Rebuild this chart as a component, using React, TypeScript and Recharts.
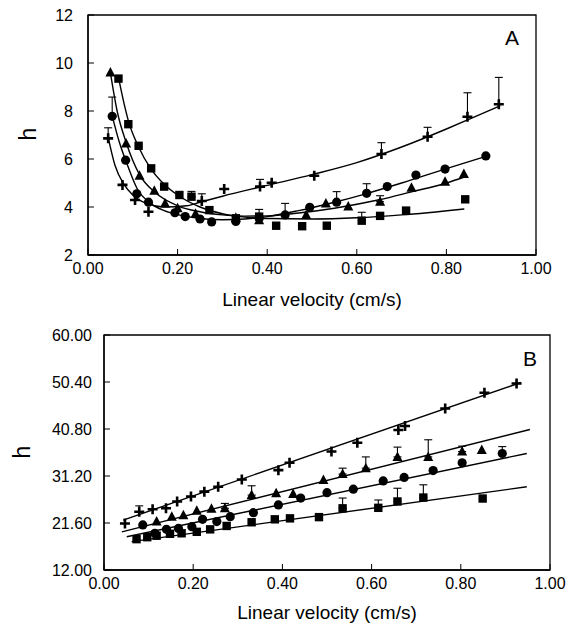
import { ComposedChart, Line, Scatter, XAxis, YAxis, ErrorBar, ReferenceArea } from 'recharts';

const FONT = '"Liberation Sans", Arial, Helvetica, sans-serif';

// ---- Panel A (h vs linear velocity, van Deemter curves) ----
const X_TICKS = [0, 0.2, 0.4, 0.6, 0.8, 1];
const A_Y_TICKS = [2, 4, 6, 8, 10, 12];

const A_PLUS_U = [0.045, 0.077, 0.105, 0.135, 0.254, 0.304, 0.384, 0.41, 0.505, 0.655, 0.758, 0.847, 0.917];
const A_PLUS_H = [6.86, 4.92, 4.29, 3.8, 4.25, 4.75, 4.85, 5.01, 5.3, 6.21, 6.93, 7.76, 8.28];
const A_PLUS_ERR = [0.44, null, null, null, 0.3, null, 0.3, null, null, 0.47, 0.39, 1.0, 1.12];

const A_CIRC_U = [0.054, 0.084, 0.109, 0.135, 0.194, 0.217, 0.25, 0.276, 0.33, 0.382, 0.44, 0.495, 0.555, 0.622, 0.668, 0.732, 0.797, 0.888];
const A_CIRC_H = [7.78, 5.95, 4.55, 4.2, 3.76, 3.6, 3.5, 3.38, 3.4, 3.55, 3.67, 3.99, 4.2, 4.57, 4.85, 5.33, 5.58, 6.13];
const A_CIRC_ERR = [0.8, null, null, null, null, null, null, null, null, 0.35, 0.48, null, 0.44, 0.4, null, null, null, null];

const A_TRI_U = [0.05, 0.085, 0.115, 0.148, 0.172, 0.2, 0.24, 0.33, 0.382, 0.487, 0.531, 0.581, 0.652, 0.722, 0.797, 0.839];
const A_TRI_H = [9.6, 6.65, 5.3, 4.68, 4.15, 3.95, 3.72, 3.55, 3.45, 3.67, 4.15, 4.02, 4.22, 4.8, 5.05, 5.37];
const A_TRI_ERR = [null, null, null, null, null, null, null, null, null, null, null, null, 0.25, null, null, null];

const A_SQ_U = [0.068, 0.09, 0.113, 0.141, 0.17, 0.204, 0.231, 0.271, 0.33, 0.382, 0.42, 0.478, 0.533, 0.611, 0.652, 0.71, 0.842];
const A_SQ_H = [9.35, 7.45, 6.55, 5.61, 4.85, 4.5, 4.43, 3.87, 3.53, 3.6, 3.22, 3.2, 3.22, 3.43, 3.63, 3.85, 4.32];
const A_SQ_ERR = [null, null, null, null, null, null, 0.22, null, null, null, null, null, null, 0.35, null, null, null];

// fitted curves
const A_PLUS_FIT_U = [0.045, 0.06, 0.08, 0.1, 0.13, 0.17, 0.22, 0.25, 0.3, 0.4, 0.5, 0.6, 0.7, 0.8, 0.85, 0.92];
const A_PLUS_FIT_H = [6.9, 5.75, 4.95, 4.5, 4.15, 4.0, 4.05, 4.2, 4.45, 4.9, 5.35, 5.85, 6.5, 7.25, 7.65, 8.22];
const A_CIRC_FIT_U = [0.054, 0.07, 0.085, 0.11, 0.14, 0.17, 0.2, 0.25, 0.3, 0.35, 0.4, 0.47, 0.55, 0.62, 0.7, 0.8, 0.89];
const A_CIRC_FIT_H = [7.8, 6.7, 5.9, 4.75, 4.15, 3.85, 3.68, 3.52, 3.47, 3.5, 3.6, 3.85, 4.2, 4.55, 5.0, 5.6, 6.12];
const A_TRI_FIT_U = [0.05, 0.065, 0.085, 0.115, 0.15, 0.2, 0.25, 0.3, 0.35, 0.4, 0.47, 0.55, 0.65, 0.72, 0.8, 0.84];
const A_TRI_FIT_H = [9.6, 8.0, 6.7, 5.35, 4.6, 4.05, 3.8, 3.67, 3.62, 3.63, 3.75, 3.95, 4.3, 4.62, 5.0, 5.25];
const A_SQ_FIT_U = [0.068, 0.08, 0.09, 0.113, 0.14, 0.17, 0.2, 0.25, 0.3, 0.35, 0.4, 0.5, 0.6, 0.7, 0.84];
const A_SQ_FIT_H = [9.4, 8.35, 7.6, 6.5, 5.6, 4.95, 4.5, 4.0, 3.72, 3.58, 3.52, 3.5, 3.55, 3.67, 3.92];

// ---- Panel B ----
const B_Y_TICKS = [12, 21.6, 31.2, 40.8, 50.4, 60];

const B_PLUS_U = [0.047, 0.079, 0.109, 0.139, 0.164, 0.195, 0.225, 0.256, 0.309, 0.391, 0.416, 0.51, 0.568, 0.66, 0.675, 0.765, 0.853, 0.925];
const B_PLUS_H = [21.5, 23.9, 24.4, 24.6, 26.0, 27.0, 28.0, 29.0, 30.5, 32.4, 33.9, 36.2, 38.0, 40.6, 41.4, 45.0, 48.2, 50.1];
const B_PLUS_ERR = [null, 1.2, null, null, null, null, null, null, null, null, null, null, null, null, null, null, null, null];

const B_TRI_U = [0.118, 0.152, 0.178, 0.208, 0.241, 0.271, 0.331, 0.386, 0.424, 0.492, 0.535, 0.587, 0.658, 0.727, 0.803, 0.847];
const B_TRI_H = [21.9, 22.9, 23.2, 24.1, 24.5, 24.6, 27.3, 27.7, 27.5, 30.4, 31.6, 32.8, 35.1, 35.1, 36.2, 36.5];
const B_TRI_ERR = [null, null, null, null, null, 1.0, 1.9, null, null, null, 1.2, 2.3, 2.0, 3.5, 1.1, null];

const B_CIRC_U = [0.087, 0.114, 0.14, 0.167, 0.197, 0.221, 0.253, 0.283, 0.335, 0.391, 0.441, 0.5, 0.559, 0.626, 0.673, 0.738, 0.803, 0.893];
const B_CIRC_H = [21.2, 19.5, 20.3, 20.5, 20.85, 22.35, 21.9, 22.9, 23.7, 25.3, 26.7, 27.8, 28.5, 30.2, 30.9, 32.3, 33.9, 35.8];
const B_CIRC_ERR = [null, null, null, null, null, null, null, null, null, null, null, null, null, null, null, null, null, 1.4];

const B_SQ_U = [0.073, 0.097, 0.118, 0.148, 0.174, 0.208, 0.238, 0.275, 0.331, 0.383, 0.417, 0.482, 0.535, 0.615, 0.658, 0.716, 0.849];
const B_SQ_H = [18.3, 18.7, 19.0, 19.4, 19.5, 19.8, 20.3, 21.0, 21.75, 22.35, 22.55, 22.8, 24.6, 24.7, 26.0, 26.8, 26.6];
const B_SQ_ERR = [null, null, null, null, null, null, null, null, null, null, null, null, 2.1, 1.6, 2.7, 2.6, null];

// straight regression lines (end points)
const B_PLUS_FIT_U = [0.043, 0.935];
const B_PLUS_FIT_H = [22.2, 50.3];
const B_TRI_FIT_U = [0.04, 0.955];
const B_TRI_FIT_H = [19.8, 40.7];
const B_CIRC_FIT_U = [0.051, 0.948];
const B_CIRC_FIT_H = [18.8, 35.8];
const B_SQ_FIT_U = [0.062, 0.948];
const B_SQ_FIT_H = [17.8, 29.0];

type Kind = 'plus' | 'circle' | 'triangle' | 'square';

function toPoints(u: number[], h: number[], err?: (number | null)[]) {
  return u.map((x, i) => ({
    u: x,
    h: h[i],
    err: err && err[i] != null ? [0, err[i] as number] : undefined,
  }));
}

function Mark({ cx, cy, kind }: { cx?: number; cy?: number; kind: Kind }) {
  if (cx == null || cy == null) return null;
  if (kind === 'plus') {
    return <path d={`M${cx - 5},${cy}H${cx + 5}M${cx},${cy - 5}V${cy + 5}`} stroke="#000" strokeWidth={2.6} />;
  }
  if (kind === 'circle') return <circle cx={cx} cy={cy} r={4.6} fill="#000" />;
  if (kind === 'triangle') {
    return <path d={`M${cx},${cy - 5.5}L${cx + 5},${cy + 4}L${cx - 5},${cy + 4}Z`} fill="#000" />;
  }
  return <rect x={cx - 4.2} y={cy - 4.2} width={8.4} height={8.4} fill="#000" />;
}

function XTick({ x, y, payload }: any) {
  return (
    <g>
      <line x1={x} y1={y} x2={x} y2={y - 6} stroke="#000" strokeWidth={1} />
      <text x={x} y={y + 19} textAnchor="middle" fontSize={16} fontFamily={FONT} fill="#000">
        {Number(payload.value).toFixed(2)}
      </text>
    </g>
  );
}

function makeYTick(fmt: (v: number) => string, gap: number) {
  return ({ x, y, payload }: any) => (
    <g>
      <line x1={x} y1={y} x2={x + 6} y2={y} stroke="#000" strokeWidth={1} />
      <text x={x - gap} y={y + 6} textAnchor="end" fontSize={16} fontFamily={FONT} fill="#000">
        {fmt(Number(payload.value))}
      </text>
    </g>
  );
}

interface Series {
  kind: Kind;
  pts: { u: number; h: number; err?: number[] }[];
  fit: { u: number; h: number }[];
}

interface PanelProps {
  height: number;
  yAxisWidth: number;
  right: number;
  bottom: number;
  xAxisHeight: number;
  yDomain: [number, number];
  yTicks: number[];
  yFmt: (v: number) => string;
  yGap: number;
  curve: 'monotone' | 'linear';
  series: Series[];
}

function Panel({ height, yAxisWidth, right, bottom, xAxisHeight, yDomain, yTicks, yFmt, yGap, curve, series }: PanelProps) {
  return (
    <ComposedChart width={568} height={height} margin={{ top: 15, right, bottom, left: 0 }}>
      <XAxis
        type="number" dataKey="u" domain={[0, 1]} ticks={X_TICKS} allowDataOverflow
        height={xAxisHeight} tickSize={0} tickMargin={0} tick={<XTick />}
        axisLine={{ stroke: '#000', strokeWidth: 1.3 }} tickLine={false} interval={0}
      />
      <YAxis
        type="number" domain={yDomain} ticks={yTicks} allowDataOverflow
        width={yAxisWidth} tickSize={0} tickMargin={0} tick={makeYTick(yFmt, yGap)}
        axisLine={{ stroke: '#000', strokeWidth: 1.3 }} tickLine={false} interval={0}
      />
      <ReferenceArea
        x1={0} x2={1} y1={yDomain[0]} y2={yDomain[1]}
        fill="none" stroke="#000" strokeWidth={1.3} ifOverflow="visible"
      />
      {series.map((s) => (
        <Line
          key={`fit-${s.kind}`} data={s.fit} dataKey="h" type={curve}
          stroke="#000" strokeWidth={1.4} dot={false} activeDot={false}
          isAnimationActive={false} legendType="none"
        />
      ))}
      {series.map((s) => (
        <Scatter
          key={`pts-${s.kind}`} data={s.pts} dataKey="h"
          shape={(p: any) => <Mark cx={p.cx} cy={p.cy} kind={s.kind} />}
          isAnimationActive={false}
        >
          <ErrorBar dataKey="err" direction="y" width={4} stroke="#000" strokeWidth={1.1} />
        </Scatter>
      ))}
    </ComposedChart>
  );
}

const seriesA: Series[] = [
  { kind: 'plus', pts: toPoints(A_PLUS_U, A_PLUS_H, A_PLUS_ERR), fit: toPoints(A_PLUS_FIT_U, A_PLUS_FIT_H) },
  { kind: 'circle', pts: toPoints(A_CIRC_U, A_CIRC_H, A_CIRC_ERR), fit: toPoints(A_CIRC_FIT_U, A_CIRC_FIT_H) },
  { kind: 'triangle', pts: toPoints(A_TRI_U, A_TRI_H, A_TRI_ERR), fit: toPoints(A_TRI_FIT_U, A_TRI_FIT_H) },
  { kind: 'square', pts: toPoints(A_SQ_U, A_SQ_H, A_SQ_ERR), fit: toPoints(A_SQ_FIT_U, A_SQ_FIT_H) },
];

const seriesB: Series[] = [
  { kind: 'plus', pts: toPoints(B_PLUS_U, B_PLUS_H, B_PLUS_ERR), fit: toPoints(B_PLUS_FIT_U, B_PLUS_FIT_H) },
  { kind: 'triangle', pts: toPoints(B_TRI_U, B_TRI_H, B_TRI_ERR), fit: toPoints(B_TRI_FIT_U, B_TRI_FIT_H) },
  { kind: 'circle', pts: toPoints(B_CIRC_U, B_CIRC_H, B_CIRC_ERR), fit: toPoints(B_CIRC_FIT_U, B_CIRC_FIT_H) },
  { kind: 'square', pts: toPoints(B_SQ_U, B_SQ_H, B_SQ_ERR), fit: toPoints(B_SQ_FIT_U, B_SQ_FIT_H) },
];

const text = (style: React.CSSProperties): React.CSSProperties => ({
  position: 'absolute', fontFamily: FONT, color: '#000', whiteSpace: 'nowrap', ...style,
});

export default function App() {
  return (
    <div style={{ position: 'absolute', left: 0, top: 0, width: 568, height: 629, background: '#fff', overflow: 'hidden' }}>
      <div style={{ position: 'absolute', left: 0, top: 0 }}>
        <Panel
          height={320} yAxisWidth={88} right={32} bottom={5} xAxisHeight={60}
          yDomain={[2, 12]} yTicks={A_Y_TICKS} yFmt={(v) => String(v)} yGap={15}
          curve="monotone" series={seriesA}
        />
      </div>
      <div style={{ position: 'absolute', left: 0, top: 320 }}>
        <Panel
          height={309} yAxisWidth={104} right={18} bottom={0} xAxisHeight={59}
          yDomain={[12, 60]} yTicks={B_Y_TICKS} yFmt={(v) => v.toFixed(2)} yGap={12}
          curve="linear" series={seriesB}
        />
      </div>

      <div style={text({ left: 88, width: 448, top: 289, textAlign: 'center', fontSize: 19, lineHeight: '22px' })}>
        Linear velocity (cm/s)
      </div>
      <div style={text({ left: 104, width: 446, top: 602, textAlign: 'center', fontSize: 19, lineHeight: '22px' })}>
        Linear velocity (cm/s)
      </div>
      <div style={text({ left: 28, top: 134, fontSize: 23, lineHeight: '22px', transform: 'translate(-50%, -50%) rotate(-90deg)' })}>
        h
      </div>
      <div style={text({ left: 22, top: 452, fontSize: 23, lineHeight: '22px', transform: 'translate(-50%, -50%) rotate(-90deg)' })}>
        h
      </div>
      <div style={text({ left: 512, top: 38, fontSize: 21, lineHeight: '22px', transform: 'translate(-50%, -50%)' })}>
        A
      </div>
      <div style={text({ left: 530, top: 359, fontSize: 21, lineHeight: '22px', transform: 'translate(-50%, -50%)' })}>
        B
      </div>
    </div>
  );
}
